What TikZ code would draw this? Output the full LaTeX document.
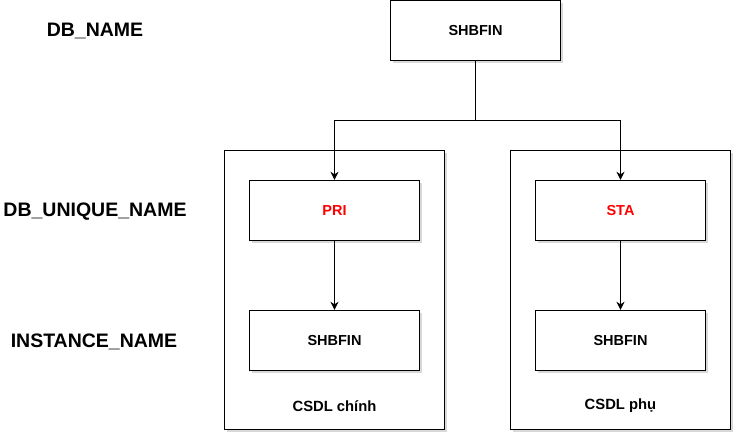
\documentclass[tikz,border=0pt]{standalone}
\usepackage{fontspec}
\setmainfont{Liberation Sans}
\usetikzlibrary{arrows.meta,shadows}
\begin{document}
\begin{tikzpicture}[x=1pt,y=-1pt,
  box/.style={draw=black,line width=1pt,fill=white,rectangle,inner sep=0pt,
    drop shadow={shadow xshift=2.5pt,shadow yshift=-2.5pt,opacity=0.3,fill=gray}},
  inner/.style={box,minimum width=170pt,minimum height=60pt,font=\bfseries\fontsize{14.5}{16}\selectfont},
  outer/.style={box,minimum height=279.5pt},
  lvl/.style={font=\bfseries\fontsize{19.5}{21}\selectfont,inner sep=0pt},
  captxt/.style={font=\bfseries\fontsize{14.8}{16}\selectfont,inner sep=0pt},
  conn/.style={line width=1pt,draw=black},
  arr/.style={conn,-{Stealth[length=8pt,width=8pt,inset=2.5pt]}}]
\useasboundingbox (0,0) rectangle (742,443);

% level labels
\node[lvl] (lname) at (95,31) {DB\_NAME};
\node[lvl] (luniq) at (95,212) {DB\_UNIQUE\_NAME};
\node[lvl] (linst) at (94,341.5) {INSTANCE\_NAME};

% outer containers
\node[outer,minimum width=219.5pt] (prim) at (334.25,290.25) {};
\node[outer,minimum width=220pt] (stby) at (620.5,290.25) {};

% top db name
\node[inner] (top) at (475.5,30.5) {SHBFIN};

% inner boxes
\node[inner,text=red] (pri) at (334.5,210.3) {PRI};
\node[inner] (insA) at (334.5,340.3) {SHBFIN};
\node[inner,text=red] (sta) at (620.5,210.3) {STA};
\node[inner] (insB) at (620.5,340.3) {SHBFIN};

% captions
\node[captxt] (capA) at (334.5,406) {CSDL chính};
\node[captxt] (capB) at (620.5,406) {CSDL phụ};

% connectors
\coordinate (split) at (475.5,120.5);
\draw[conn] (top.south) -- (split);
\draw[arr] (split) -| (pri.north);
\draw[arr] (split) -| (sta.north);
\draw[arr] (pri.south) -- (insA.north);
\draw[arr] (sta.south) -- (insB.north);
\end{tikzpicture}
\end{document}
